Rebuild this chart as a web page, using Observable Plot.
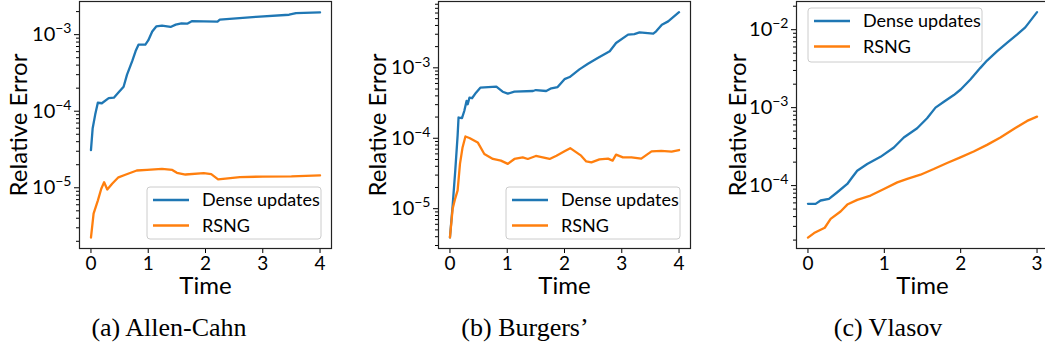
<!DOCTYPE html>
<html>
<head>
<meta charset="utf-8">
<script src="https://cdn.jsdelivr.net/npm/d3@7"></script>
<script src="https://cdn.jsdelivr.net/npm/@observablehq/plot@0.6"></script>
<style>
  html, body { margin: 0; padding: 0; background: #fff; overflow: hidden; }
  #fig { position: relative; width: 1045px; height: 353px; overflow: hidden; }
  .panel { position: absolute; top: 0; }
  .panel svg { max-width: none !important; }
  .caption {
    position: absolute; top: 315px; width: 300px; text-align: center;
    font-family: "Liberation Serif", "Times New Roman", serif; font-size: 26px; line-height: 26px; color: #000;
  }
</style>
</head>
<body>
<div id="fig"></div>
<script>
// Allen-Cahn: relative error over time
const acDenseT   = [0, 0.03, 0.075, 0.12, 0.19, 0.31, 0.40, 0.48, 0.57, 0.63, 0.72, 0.78, 0.83, 0.95, 1.00, 1.07, 1.14, 1.24, 1.39, 1.48, 1.58, 1.68, 1.76, 1.97, 2.21, 2.25, 2.88, 3.46, 3.58, 4.00];
const acDenseErr = [3.1e-5, 6.0e-5, 9.1e-5, 1.29e-4, 1.27e-4, 1.48e-4, 1.50e-4, 1.75e-4, 2.09e-4, 3.0e-4, 4.5e-4, 6.1e-4, 7.4e-4, 7.4e-4, 8.4e-4, 1.10e-3, 1.28e-3, 1.31e-3, 1.26e-3, 1.35e-3, 1.40e-3, 1.39e-3, 1.50e-3, 1.49e-3, 1.48e-3, 1.57e-3, 1.71e-3, 1.82e-3, 1.91e-3, 1.95e-3];
const acRsngT    = [0, 0.046, 0.12, 0.18, 0.23, 0.285, 0.37, 0.48, 0.60, 0.80, 0.98, 1.24, 1.42, 1.50, 1.65, 1.97, 2.10, 2.22, 2.35, 2.60, 3.00, 3.50, 4.00];
const acRsngErr  = [2.24e-6, 4.6e-6, 6.8e-6, 9.7e-6, 1.18e-5, 9.5e-6, 1.13e-5, 1.37e-5, 1.48e-5, 1.68e-5, 1.71e-5, 1.77e-5, 1.71e-5, 1.57e-5, 1.49e-5, 1.55e-5, 1.51e-5, 1.29e-5, 1.32e-5, 1.38e-5, 1.40e-5, 1.41e-5, 1.45e-5];

// Burgers': relative error over time
const bgDenseT   = [0, 0.047, 0.093, 0.134, 0.15, 0.185, 0.21, 0.25, 0.29, 0.31, 0.34, 0.385, 0.455, 0.53, 0.81, 0.92, 1.01, 1.125, 1.45, 1.50, 1.68, 1.77, 1.88, 2.00, 2.09, 2.26, 2.41, 2.58, 2.79, 2.90, 3.11, 3.22, 3.31, 3.55, 3.60, 3.70, 3.81, 4.00];
const bgDenseErr = [3.9e-6, 1.11e-5, 3.5e-5, 1.1e-4, 1.97e-4, 1.95e-4, 1.93e-4, 2.44e-4, 3.39e-4, 3.04e-4, 3.77e-4, 3.70e-4, 4.44e-4, 5.22e-4, 5.40e-4, 4.58e-4, 4.30e-4, 4.58e-4, 4.69e-4, 4.84e-4, 4.69e-4, 5.12e-4, 5.33e-4, 6.9e-4, 7.4e-4, 9.5e-4, 1.14e-3, 1.38e-3, 1.72e-3, 2.25e-3, 2.96e-3, 3.02e-3, 3.19e-3, 3.06e-3, 3.30e-3, 4.10e-3, 4.57e-3, 6.18e-3];
const bgRsngT    = [0, 0.047, 0.09, 0.134, 0.175, 0.22, 0.27, 0.34, 0.485, 0.60, 0.75, 0.89, 1.01, 1.125, 1.27, 1.36, 1.50, 1.74, 1.86, 2.00, 2.10, 2.29, 2.38, 2.47, 2.61, 2.76, 2.84, 2.90, 3.02, 3.17, 3.34, 3.52, 3.69, 3.87, 4.00];
const bgRsngErr  = [3.9e-6, 1.0e-5, 1.38e-5, 1.82e-5, 4.33e-5, 7.41e-5, 1.06e-4, 1.01e-4, 8.73e-5, 5.98e-5, 5.08e-5, 4.81e-5, 4.33e-5, 5.08e-5, 5.36e-5, 5.08e-5, 5.60e-5, 5.08e-5, 5.66e-5, 6.52e-5, 7.24e-5, 5.66e-5, 4.68e-5, 4.55e-5, 5.01e-5, 5.13e-5, 4.81e-5, 5.85e-5, 5.36e-5, 5.37e-5, 5.13e-5, 6.52e-5, 6.61e-5, 6.46e-5, 6.81e-5];

// Vlasov: relative error over time
const vlDenseT   = [0, 0.10, 0.166, 0.275, 0.384, 0.515, 0.58, 0.645, 0.776, 0.95, 1.125, 1.255, 1.43, 1.56, 1.67, 1.78, 1.91, 2.00, 2.127, 2.258, 2.345, 2.475, 2.606, 2.737, 2.846, 3.00];
const vlDenseErr = [5.83e-5, 5.83e-5, 6.44e-5, 6.76e-5, 8.22e-5, 1.05e-4, 1.28e-4, 1.55e-4, 1.89e-4, 2.34e-4, 3.08e-4, 4.14e-4, 5.44e-4, 7.31e-4, 1.0e-3, 1.19e-3, 1.45e-3, 1.71e-3, 2.30e-3, 3.24e-3, 4.02e-3, 5.28e-3, 6.76e-3, 8.63e-3, 1.07e-2, 1.68e-2];
const vlRsngT    = [0, 0.08, 0.166, 0.22, 0.297, 0.427, 0.515, 0.645, 0.82, 0.995, 1.17, 1.30, 1.474, 1.647, 1.822, 1.996, 2.17, 2.345, 2.52, 2.69, 2.87, 3.00];
const vlRsngErr  = [2.15e-5, 2.46e-5, 2.72e-5, 2.88e-5, 3.75e-5, 4.66e-5, 5.71e-5, 6.56e-5, 7.45e-5, 9.06e-5, 1.10e-4, 1.22e-4, 1.38e-4, 1.63e-4, 1.95e-4, 2.30e-4, 2.74e-4, 3.33e-4, 4.14e-4, 5.28e-4, 6.76e-4, 7.67e-4];

const seriesNames = ["Dense updates", "RSNG"];
const seriesColors = ["#1f77b4", "#ff7f0e"];
const captions = ["(a) Allen-Cahn", "(b) Burgers\u2019", "(c) Vlasov"];
const xTicksAC = [0, 1, 2, 3, 4];
const xTicksBG = [0, 1, 2, 3, 4];
const xTicksVL = [0, 1, 2, 3];

const rows = (ts, vs) => ts.map((t, i) => ({t, err: vs[i]}));

function logTicks(domain) {
  const major = [], minor = [];
  for (let e = -8; e <= 0; e++) {
    for (let k = 1; k <= 9; k++) {
      const v = k * Math.pow(10, e);
      if (v < domain[0] || v > domain[1]) continue;
      (k === 1 ? major : minor).push(v);
    }
  }
  return {major, minor};
}

function panel(cfg) {
  const {major, minor} = logTicks(cfg.yDomain);
  const plot = Plot.plot({
    width: cfg.width,
    height: 300,
    marginLeft: cfg.marginLeft,
    marginRight: cfg.width - cfg.marginLeft - 252,
    marginTop: 1,
    marginBottom: 52,
    style: {fontFamily: "Lato, sans-serif", fontSize: "18px", color: "#000", background: "transparent", overflow: "visible"},
    x: {domain: cfg.xDomain},
    y: {type: "log", domain: cfg.yDomain},
    marks: [
      Plot.axisX({ticks: cfg.xTicks, tickSize: 5, tickPadding: 3, fontSize: 19, tickFormat: d => String(d), label: null}),
      Plot.axisY({ticks: minor, tickSize: 3, tickFormat: () => "", label: null}),
      Plot.axisY({ticks: major, tickSize: 5, tickPadding: 3, fontSize: 20, tickFormat: d => "e" + Math.round(Math.log10(d)), label: null}),
      Plot.line(cfg.dense, {x: "t", y: "err", stroke: seriesColors[0], strokeWidth: 2.3}),
      Plot.line(cfg.rsng, {x: "t", y: "err", stroke: seriesColors[1], strokeWidth: 2.3}),
      Plot.frame({stroke: "#222", strokeWidth: 1.2}),
      Plot.text(["Time"], {frameAnchor: "bottom", textAnchor: "middle", lineAnchor: "middle", dy: 38, fontSize: 24}),
      Plot.text(["Relative Error"], {frameAnchor: "left", textAnchor: "middle", lineAnchor: "middle", dx: cfg.yLabelDx, rotate: -90, fontSize: 24})
    ]
  });

  const svg = d3.select(plot);
  // decade tick labels: "10" with a raised exponent
  svg.selectAll('g[aria-label="y-axis tick label"] text').each(function () {
    const s = this.textContent;
    if (!s.startsWith("e")) return;
    const t = d3.select(this);
    t.text("10");
    t.append("tspan").attr("dy", "-0.55em").attr("font-size", "0.7em").text("\u2212" + s.slice(2));
  });

  // legend box
  const L = cfg.legend;
  const g = svg.append("g").attr("font-family", "Lato, sans-serif").attr("font-size", 18).attr("text-anchor", "start");
  g.append("rect").attr("x", L.x).attr("y", L.y).attr("width", 174).attr("height", L.h)
    .attr("rx", 3).attr("fill", "#fff").attr("fill-opacity", 0.8).attr("stroke", "#cccccc").attr("stroke-width", 1);
  seriesNames.forEach((name, i) => {
    const yy = L.y + 13 + i * 25.5;
    g.append("line").attr("x1", L.x + 6).attr("x2", L.x + 42).attr("y1", yy).attr("y2", yy)
      .attr("stroke", seriesColors[i]).attr("stroke-width", 2.3);
    g.append("text").attr("x", L.x + 55).attr("y", yy).attr("dy", "0.35em").attr("fill", "#000").text(name);
  });
  return plot;
}

const fig = document.getElementById("fig");
const configs = [
  {left: 0, width: 345, marginLeft: 79, xDomain: [-0.2, 4.2], xTicks: xTicksAC, yDomain: [1.61e-6, 2.71e-3],
   dense: rows(acDenseT, acDenseErr), rsng: rows(acRsngT, acRsngErr), yLabelDx: -60, legend: {x: 147, y: 187, h: 52}},
  {left: 350, width: 350, marginLeft: 88, xDomain: [-0.2, 4.2], xTicks: xTicksBG, yDomain: [2.72e-6, 8.75e-3],
   dense: rows(bgDenseT, bgDenseErr), rsng: rows(bgRsngT, bgRsngErr), yLabelDx: -60, legend: {x: 156, y: 187, h: 52}},
  {left: 700, width: 360, marginLeft: 96, xDomain: [-0.15, 3.15], xTicks: xTicksVL, yDomain: [1.56e-5, 2.30e-2],
   dense: rows(vlDenseT, vlDenseErr), rsng: rows(vlRsngT, vlRsngErr), yLabelDx: -58, legend: {x: 108, y: 8, h: 54}}
];
const captionCenters = [169, 525, 888];

configs.forEach((cfg, i) => {
  const wrap = document.createElement("div");
  wrap.className = "panel";
  wrap.style.left = cfg.left + "px";
  wrap.style.width = cfg.width + "px";
  wrap.appendChild(panel(cfg));
  fig.appendChild(wrap);

  const cap = document.createElement("div");
  cap.className = "caption";
  cap.style.left = (captionCenters[i] - 150) + "px";
  cap.textContent = captions[i];
  fig.appendChild(cap);
});
</script>
</body>
</html>
